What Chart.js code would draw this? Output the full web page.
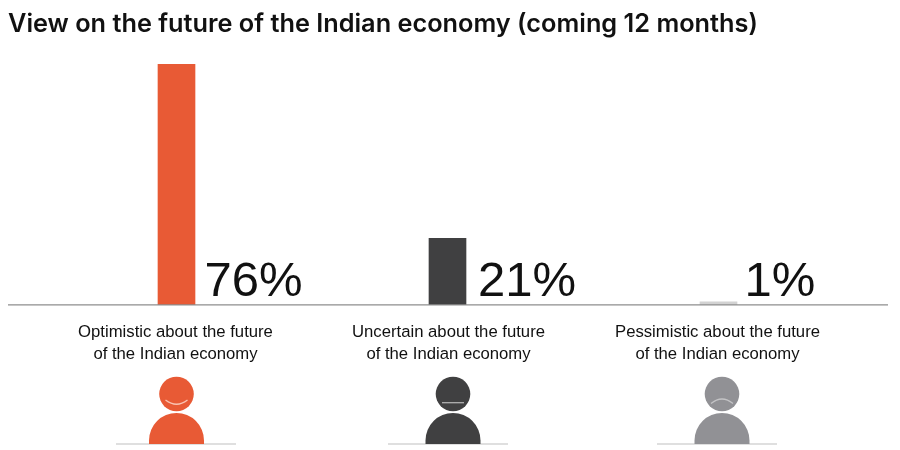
<!DOCTYPE html>
<html><head><meta charset="utf-8">
<script src="https://cdn.jsdelivr.net/npm/chart.js@4"></script>
<style>html,body{margin:0;padding:0;background:#fff}canvas{display:block}</style>
</head><body><canvas id="c" width="900" height="450"></canvas>
<script>
const titleText = 'View on the future of the Indian economy (coming 12 months)';
const categories = [
  ['Optimistic about the future','of the Indian economy'],
  ['Uncertain about the future','of the Indian economy'],
  ['Pessimistic about the future','of the Indian economy']
];
const values = [76, 21, 1];
const valueLabels = ['76%', '21%', '1%'];
const barColors = ['#E85A35', '#404041', '#D2D2D2'];
const iconColors = ['#E85A35', '#404041', '#919195'];
const mouthColors = ['#F9C3B2', '#B0B0B0', '#C4C4C6'];
const moods = ['smile', 'flat', 'frown'];
const labelShift = [-1, 1, -1];
const iconShift = [0, 5.5, 3.5];
const groundShift = [-0.5, 0.5, -1.5];
const valueShift = [28, 30.5, 26];
const FONT = '"Liberation Sans", Arial, sans-serif';

const decor = {
  id: 'decor',
  afterLayout(chart) {
    chart.titleBlock.left = 8;
  },
  beforeDraw(chart) {
    const x = chart.scales.x;
    x.getLabelItems().forEach((item, i) => {
      if (!item._moved) { item.options.translation[0] += labelShift[i]; item._moved = true; }
    });
  },
  afterDraw(chart) {
    const { ctx, scales: { x, y } } = chart;
    const base = y.getPixelForValue(0);
    ctx.save();
    ctx.strokeStyle = '#8E8E8E';
    ctx.lineWidth = 1.3;
    ctx.beginPath(); ctx.moveTo(8, base); ctx.lineTo(888, base); ctx.stroke();

    ctx.font = '49px ' + FONT;
    ctx.fillStyle = '#111';
    ctx.textAlign = 'left';
    ctx.textBaseline = 'alphabetic';
    values.forEach((v, i) => {
      ctx.fillText(valueLabels[i], x.getPixelForValue(i) + valueShift[i], base - 9);
    });

    values.forEach((v, i) => {
      const bx = x.getPixelForValue(i);
      const cx = bx + iconShift[i];
      const gx = bx + groundShift[i];
      const ground = 444, headY = 394;
      ctx.strokeStyle = '#D4D4D4';
      ctx.lineWidth = 1.5;
      ctx.beginPath(); ctx.moveTo(gx - 60, ground); ctx.lineTo(gx + 60, ground); ctx.stroke();
      ctx.fillStyle = iconColors[i];
      ctx.beginPath(); ctx.arc(cx, headY, 17.3, 0, Math.PI * 2); ctx.fill();
      ctx.beginPath(); ctx.arc(cx, ground - 3.5, 27.5, Math.PI, 0); ctx.lineTo(cx + 27.5, ground); ctx.lineTo(cx - 27.5, ground); ctx.closePath(); ctx.fill();
      ctx.strokeStyle = mouthColors[i];
      ctx.lineWidth = 1.3;
      ctx.beginPath();
      if (moods[i] === 'smile') { ctx.moveTo(cx - 11, headY + 6); ctx.quadraticCurveTo(cx, headY + 14.5, cx + 11, headY + 6); }
      else if (moods[i] === 'flat') { ctx.moveTo(cx - 11, headY + 8.7); ctx.lineTo(cx + 11, headY + 8.7); }
      else { ctx.moveTo(cx - 11, headY + 9.5); ctx.quadraticCurveTo(cx, headY + 0.5, cx + 11, headY + 9.5); }
      ctx.stroke();
    });
    ctx.restore();
  }
};

new Chart(document.getElementById('c').getContext('2d'), {
  type: 'bar',
  data: {
    labels: categories,
    datasets: [{ data: values, backgroundColor: barColors, barThickness: 37, borderWidth: 0 }]
  },
  plugins: [decor],
  options: {
    responsive: false,
    devicePixelRatio: 1,
    animation: false,
    layout: { padding: { left: 41, right: 46, top: 0, bottom: 69 } },
    plugins: {
      legend: { display: false },
      tooltip: { enabled: false },
      title: {
        display: true, text: titleText, align: 'start', color: '#111',
        font: { family: 'Inter, ' + FONT, size: 25.3, weight: '600' },
        padding: { top: 9, bottom: 24.64 }
      }
    },
    scales: {
      x: {
        grid: { display: false, drawTicks: false },
        border: { display: false },
        ticks: { color: '#111', font: { family: FONT, size: 16.7, lineHeight: 1.32 }, padding: 16, maxRotation: 0, autoSkip: false }
      },
      y: { display: false, min: 0, max: 76 }
    }
  }
});
</script></body></html>
